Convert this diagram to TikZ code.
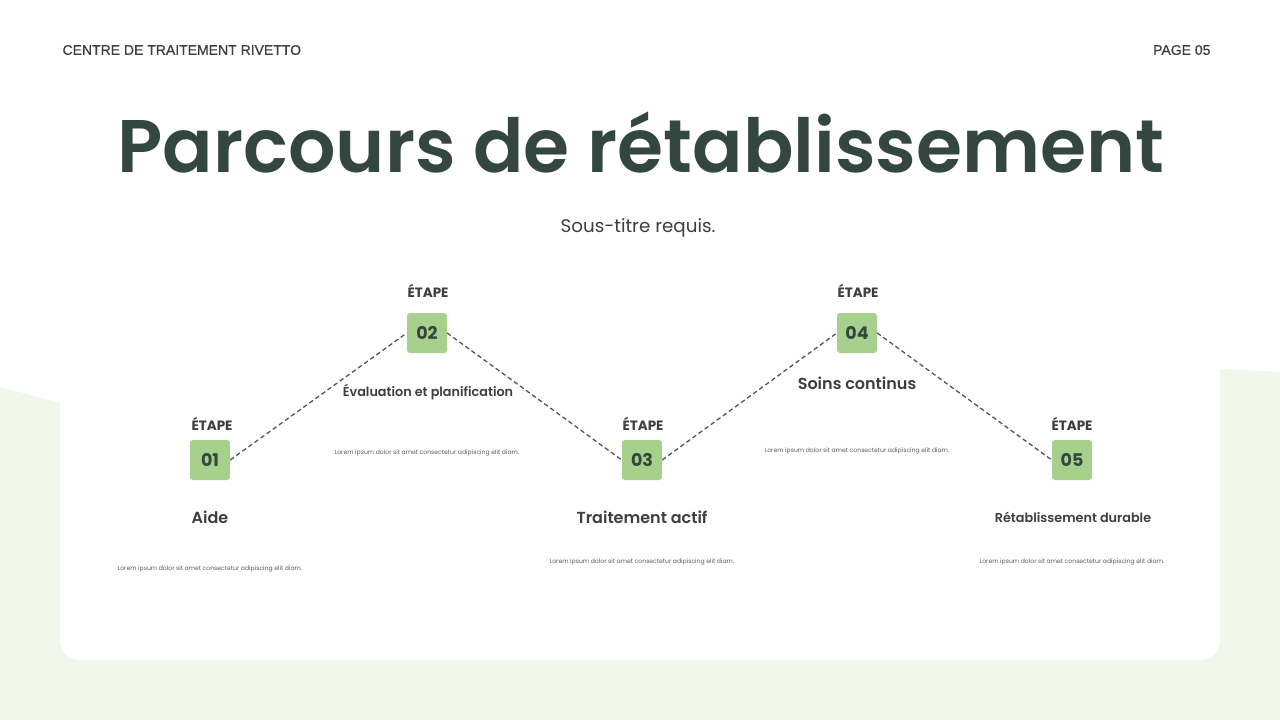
\documentclass[tikz,border=0pt]{standalone}
\usepackage{fontspec}
\setmainfont{Poppins}
\newfontfamily\popsb{Poppins SemiBold}
\newfontfamily\popbd{Poppins Bold}
\newfontfamily\hdr{Liberation Sans}[FakeBold=0.6]
\definecolor{bgg}{HTML}{F1F7EA}
\definecolor{ink}{HTML}{34473F}
\definecolor{txt}{HTML}{3C3F3D}
\definecolor{boxg}{HTML}{A8D08D}
\definecolor{dash}{HTML}{555555}
\begin{document}
\begin{tikzpicture}[x=1pt,y=-1pt,
  stepbox/.style={fill=boxg,rounded corners=3pt,minimum width=40pt,minimum height=40pt,inner sep=0pt,font=\popbd\fontsize{17.5}{17}\selectfont,text=ink},
  etape/.style={font=\popbd\fontsize{13.5}{14}\selectfont,text=txt},
  steptitle/.style={font=\popsb\fontsize{16}{17}\selectfont,text=txt},
  steptitlesm/.style={font=\popsb\fontsize{12.8}{14}\selectfont,text=txt},
  lorem/.style={font=\fontsize{6.1}{6.5}\selectfont,text=txt!85},
  conn/.style={draw=dash,line width=1.3pt,dash pattern=on 4.5pt off 3pt}]
\useasboundingbox (0,0) rectangle (1280,720);
\fill[white] (0,0) rectangle (1280,720);
\fill[bgg] (0,387) -- (60,403) -- (1220,369) -- (1280,372) -- (1280,720) -- (0,720) -- cycle;
\fill[white,rounded corners=20pt] (60,80) rectangle (1220,660);
% header
\node[anchor=west,font=\hdr\fontsize{14}{14}\selectfont,text=txt] (hl) at (59,50) {CENTRE DE TRAITEMENT RIVETTO};
\node[anchor=east,font=\hdr\fontsize{14}{14}\selectfont,text=txt] (hr) at (1214,50) {PAGE 05};
\node[font=\popsb\fontsize{74.5}{75}\selectfont,text=ink] (title) at (641,143) {Parcours de rétablissement};
\node[font=\fontsize{18.3}{18}\selectfont,text=txt] (sub) at (638,228) {Sous-titre requis.};
% steps
\node[stepbox] (s1) at (210,460) {01};
\node[stepbox] (s2) at (427,333) {02};
\node[stepbox] (s3) at (642,460) {03};
\node[stepbox] (s4) at (857,333) {04};
\node[stepbox] (s5) at (1072,460) {05};
\foreach \n/\x/\y in {1/212/424,2/428/291,3/643/424,4/858/291,5/1072/424}
  \node[etape] (e\n) at (\x,\y) {ÉTAPE};
\draw[conn] (s1.east) -- (s2.west);
\draw[conn] (s2.east) -- (s3.west);
\draw[conn] (s3.east) -- (s4.west);
\draw[conn] (s4.east) -- (s5.west);
% titles
\node[steptitle] (t1) at (210,517) {Aide};
\node[steptitlesm] (t2) at (428,392) {Évaluation et planification};
\node[steptitle] (t3) at (642,517) {Traitement actif};
\node[steptitle] (t4) at (857,383) {Soins continus};
\node[steptitlesm] (t5) at (1073,517) {Rétablissement durable};
% lorem
\node[lorem] (l1) at (210,569) {Lorem ipsum dolor sit amet consectetur adipiscing elit diam.};
\node[lorem] (l2) at (427,453) {Lorem ipsum dolor sit amet consectetur adipiscing elit diam.};
\node[lorem] (l3) at (642,562) {Lorem ipsum dolor sit amet consectetur adipiscing elit diam.};
\node[lorem] (l4) at (857,451) {Lorem ipsum dolor sit amet consectetur adipiscing elit diam.};
\node[lorem] (l5) at (1072,562) {Lorem ipsum dolor sit amet consectetur adipiscing elit diam.};
\end{tikzpicture}
\end{document}
